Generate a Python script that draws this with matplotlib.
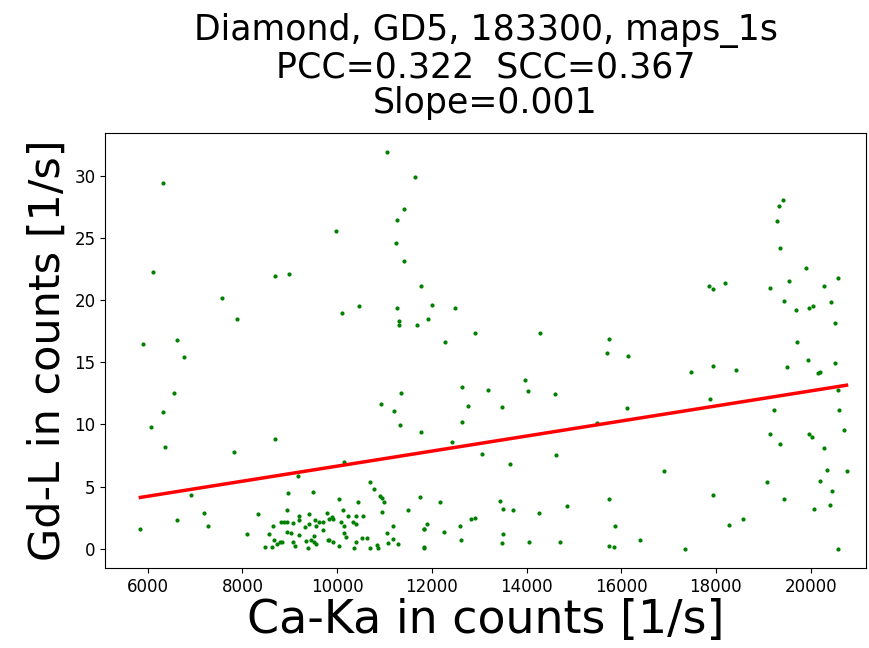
import numpy as np
import matplotlib
matplotlib.use("Agg")
import matplotlib.pyplot as plt

# Ca-Ka (x) und Gd-L (y)
ca_ka = [6323, 9976, 6105, 8688, 8983, 7575, 7879, 10096, 10468, 5901, 6625,
         11059, 11650, 11418, 11264, 11237, 11418, 11771, 11264, 12010, 12495,
         11300, 11300, 11686, 11925, 12911, 14290, 12284, 15747,
         19414, 19323, 19288, 19351, 19893, 20576, 17852, 17943, 18183, 19140,
         19535, 20280, 19442, 19682, 19957, 20048, 20434, 20519, 19710,
         6773, 6562, 6323, 6076, 6359, 7816, 8688, 10151, 9167, 6921, 8956,
         9490, 10033, 10447, 7189, 6619, 7280, 5844, 8090, 8329,
         8935, 9792, 9201, 9406, 8808, 8878, 8935, 9074, 9201, 8652, 9321,
         9526, 9623, 9708, 9412, 9554, 9695, 8948, 9019, 8568, 9188, 9511,
         8667, 8793, 8836, 8736, 9074, 9343, 9455, 9511, 9554, 9117, 8483,
         8625, 9385, 9807,
         10694, 10785, 10905, 10941, 10996, 11750, 11503, 10941, 10124, 9885,
         9828, 9913, 10223, 10392, 10553, 10072, 10341, 10392, 10151, 11180,
         11828, 10151, 10181, 11053, 10519, 10631, 11180, 9828, 9913, 10392,
         11080, 11291, 10039, 10362, 10700, 10842, 10870, 11828,
         15705, 13960, 14024, 14594, 13179, 12643, 12763, 12643, 13481, 11348,
         10932, 11207, 11321, 11771, 12432, 13065, 13656, 14621, 15481, 12165,
         13445, 13508, 13720, 14262, 14860, 15747, 11898, 11834, 12263, 12588,
         12826, 12911, 12609, 11834, 13508, 13481, 14051, 14706, 15747,
         16148, 17465, 17943, 18429, 19499, 19949, 20160, 20190, 20519, 20576,
         17879, 16120, 19224, 20604, 20703, 19140, 19351, 19970, 20033, 20280,
         20337, 20759, 20190, 20456, 20407, 20075, 19083, 19442, 16895, 17943,
         15873, 18274, 18569, 16389, 15846, 17345, 20576]
gd_l = [29.4, 25.56, 22.24, 21.9, 22.1, 20.2, 18.46, 18.95, 19.5, 16.5, 16.8,
        31.9, 29.9, 27.36, 26.45, 24.6, 23.15, 21.1, 19.37, 19.6, 19.37,
        18.35, 18.0, 18.0, 18.46, 17.34, 17.34, 16.64, 16.88,
        28.05, 27.6, 26.34, 24.2, 22.6, 21.8, 21.1, 20.9, 21.4, 20.98,
        21.5, 21.1, 19.96, 19.16, 19.37, 19.5, 19.83, 18.14, 16.64,
        15.4, 12.54, 10.96, 9.8, 8.2, 7.77, 8.79, 6.97, 5.84, 4.34, 4.45,
        4.56, 4.0, 3.78, 2.87, 2.28, 1.85, 1.58, 1.15, 2.76,
        3.08, 2.87, 2.6, 2.76, 2.11, 2.11, 2.17, 2.06, 2.28, 1.85, 1.74,
        2.28, 2.11, 2.17, 1.95, 1.79, 1.47, 1.31, 1.26, 1.15, 1.1, 0.99,
        0.72, 0.51, 0.56, 0.35, 0.51, 0.62, 0.72, 0.56, 0.4, 0.18, 0.14,
        0.14, 0.08, 0.72,
        5.33, 4.8, 4.26, 4.1, 3.78, 4.15, 3.08, 2.97, 3.08, 2.55,
        2.39, 2.39, 2.65, 2.65, 2.65, 2.17, 2.11, 1.95, 1.85, 1.85,
        1.58, 1.26, 0.94, 1.26, 0.88, 0.88, 0.78, 0.72, 0.56, 0.56,
        0.46, 0.35, 0.24, 0.08, 0.08, 0.3, 0.08, 0.08,
        15.73, 13.56, 12.65, 12.43, 12.75, 12.97, 11.5, 10.18, 11.39, 12.54,
        11.63, 11.07, 9.91, 9.35, 8.55, 7.64, 6.83, 7.53, 10.15, 3.75,
        3.86, 3.19, 3.08, 2.87, 3.43, 4.0, 1.95, 1.61, 1.37, 1.82,
        2.39, 2.49, 0.67, 0.14, 1.15, 0.48, 0.56, 0.56, 0.24,
        15.51, 14.25, 14.71, 14.36, 14.6, 15.17, 14.15, 14.25, 14.93, 12.76,
        12.08, 11.28, 11.17, 11.17, 9.57, 9.22, 8.42, 9.22, 8.98, 8.09,
        6.37, 6.27, 5.47, 4.66, 3.54, 3.19, 5.36, 4.0, 6.27, 4.34,
        1.82, 1.93, 2.39, 0.7, 0.14, 0.0, 0.0]

x = np.array(ca_ka, dtype=float)
y = np.array(gd_l, dtype=float)

# lineare Regression
slope, intercept = np.polyfit(x, y, 1)
xs = np.array([x.min(), x.max()])

fig = plt.figure(figsize=(8.69, 6.48), dpi=100)
ax = fig.add_axes([0.121, 0.1235, 0.8755, 0.6715])
ax.scatter(x, y, s=4, c='green')
ax.plot(xs, slope * xs + intercept, color='red', linewidth=2.5)

ax.set_xlim(5100, 21170)
ax.set_ylim(-1.55, 33.45)
ax.tick_params(labelsize=12)
ax.set_title("Diamond, GD5, 183300, maps_1s\nPCC=0.322  SCC=0.367\nSlope=0.001",
             fontsize=25, linespacing=1.08, pad=14)
ax.set_xlabel("Ca-Ka in counts [1/s]", fontsize=33, labelpad=2)
ax.set_ylabel("Gd-L in counts [1/s]", fontsize=31)

fig.savefig("out.png", dpi=100)
